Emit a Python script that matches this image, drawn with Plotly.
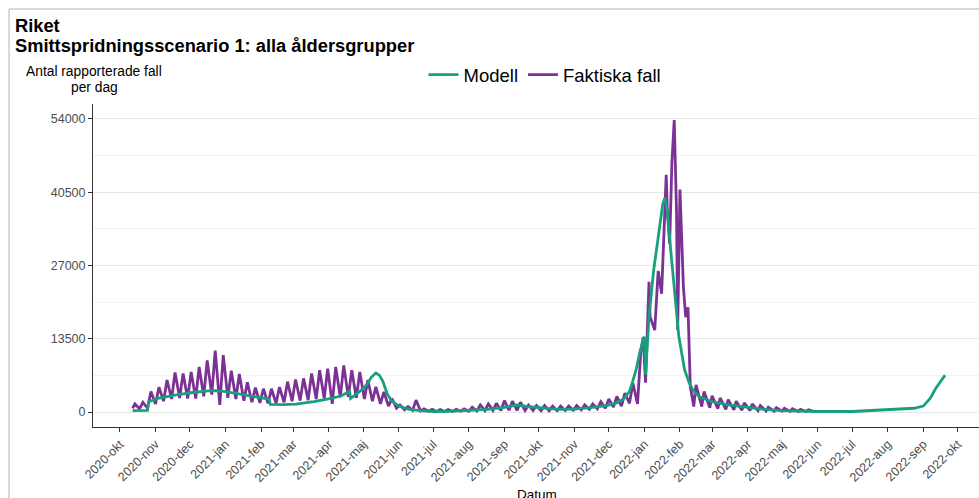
import plotly.graph_objects as go
import pandas as pd

# ---------------- data ----------------
model_dates = [
    "2020-10-12", "2020-10-25", "2020-10-26", "2020-11-03", "2020-11-18", "2020-12-03",
    "2020-12-17", "2020-12-24", "2021-01-01", "2021-01-16", "2021-01-30", "2021-02-08",
    "2021-02-09", "2021-02-20", "2021-03-03", "2021-03-19", "2021-04-03", "2021-04-12",
    "2021-04-19", "2021-04-20", "2021-04-29", "2021-05-04", "2021-05-08", "2021-05-12",
    "2021-05-15", "2021-05-18", "2021-05-22", "2021-05-26", "2021-06-01", "2021-06-10",
    "2021-06-20", "2021-07-01", "2021-07-15", "2021-08-01", "2021-08-17", "2021-09-01",
    "2021-09-12", "2021-09-22", "2021-10-05", "2021-10-18", "2021-11-01", "2021-11-15",
    "2021-11-29", "2021-12-08", "2021-12-14", "2021-12-19", "2021-12-22", "2021-12-25",
    "2021-12-28", "2021-12-31", "2022-01-01", "2022-01-02", "2022-01-05", "2022-01-09",
    "2022-01-14", "2022-01-17", "2022-01-19", "2022-01-21", "2022-01-24", "2022-01-27",
    "2022-01-31", "2022-02-05", "2022-02-09", "2022-02-13", "2022-02-18", "2022-03-01",
    "2022-03-15", "2022-04-01", "2022-04-15", "2022-05-01", "2022-06-01", "2022-07-01",
    "2022-08-01", "2022-08-24", "2022-09-01", "2022-09-07", "2022-09-12", "2022-09-16",
    "2022-09-20",
]
model_values = [
    250, 300, 1900, 2500, 3100, 3600,
    3900, 3950, 3750, 3250, 2700, 2400,
    1400, 1350, 1450, 1900, 2500, 3000,
    3800, 2500, 4000, 5000, 6400, 7200,
    6800, 5700, 3300, 2000, 1100, 500,
    250, 100, 150, 300, 500, 850,
    1300, 1000, 700, 500, 550, 800,
    1200, 1700, 2400, 3800, 5800, 8000,
    11000, 13500, 13900, 6900, 17500, 26000,
    34000, 38300, 39500, 37000, 29700, 22400,
    13900, 7800, 5400, 3800, 2800, 1900,
    1300, 850, 500, 250, 100, 100,
    400, 700, 1100, 2500, 4400, 5600,
    6800,
]

cases_dates = [
    "2020-10-12", "2020-10-14", "2020-10-18", "2020-10-21", "2020-10-25", "2020-10-28",
    "2020-11-01", "2020-11-04", "2020-11-08", "2020-11-11", "2020-11-15", "2020-11-18",
    "2020-11-22", "2020-11-25", "2020-11-29", "2020-12-02", "2020-12-06", "2020-12-09",
    "2020-12-13", "2020-12-16", "2020-12-20", "2020-12-23", "2020-12-27", "2020-12-30",
    "2021-01-03", "2021-01-06", "2021-01-10", "2021-01-13", "2021-01-17", "2021-01-20",
    "2021-01-24", "2021-01-27", "2021-01-31", "2021-02-03", "2021-02-07", "2021-02-10",
    "2021-02-14", "2021-02-17", "2021-02-21", "2021-02-24", "2021-02-28", "2021-03-03",
    "2021-03-07", "2021-03-10", "2021-03-14", "2021-03-17", "2021-03-21", "2021-03-24",
    "2021-03-28", "2021-03-31", "2021-04-04", "2021-04-07", "2021-04-11", "2021-04-14",
    "2021-04-18", "2021-04-21", "2021-04-25", "2021-04-28", "2021-05-02", "2021-05-05",
    "2021-05-09", "2021-05-12", "2021-05-16", "2021-05-19", "2021-05-23", "2021-05-26",
    "2021-05-30", "2021-06-02", "2021-06-06", "2021-06-09", "2021-06-13", "2021-06-16",
    "2021-06-20", "2021-06-23", "2021-06-27", "2021-06-30", "2021-07-04", "2021-07-07",
    "2021-07-11", "2021-07-14", "2021-07-18", "2021-07-21", "2021-07-25", "2021-07-28",
    "2021-08-01", "2021-08-04", "2021-08-08", "2021-08-11", "2021-08-15", "2021-08-18",
    "2021-08-22", "2021-08-25", "2021-08-29", "2021-09-01", "2021-09-05", "2021-09-08",
    "2021-09-12", "2021-09-15", "2021-09-19", "2021-09-22", "2021-09-26", "2021-09-29",
    "2021-10-03", "2021-10-06", "2021-10-10", "2021-10-13", "2021-10-17", "2021-10-20",
    "2021-10-24", "2021-10-27", "2021-10-31", "2021-11-03", "2021-11-07", "2021-11-10",
    "2021-11-14", "2021-11-17", "2021-11-21", "2021-11-24", "2021-11-28", "2021-12-01",
    "2021-12-05", "2021-12-08", "2021-12-12", "2021-12-15", "2021-12-19", "2021-12-22",
    "2021-12-26", "2021-12-29", "2021-12-31", "2022-01-02", "2022-01-05", "2022-01-06",
    "2022-01-10", "2022-01-13", "2022-01-16", "2022-01-20", "2022-01-21", "2022-01-23",
    "2022-01-25", "2022-01-27", "2022-01-29", "2022-01-30", "2022-02-01", "2022-02-04",
    "2022-02-06", "2022-02-08", "2022-02-10", "2022-02-13", "2022-02-15", "2022-02-20",
    "2022-02-22", "2022-02-27", "2022-03-01", "2022-03-06", "2022-03-08", "2022-03-13",
    "2022-03-15", "2022-03-20", "2022-03-22", "2022-03-27", "2022-03-29", "2022-04-03",
    "2022-04-05", "2022-04-10", "2022-04-12", "2022-04-17", "2022-04-19", "2022-04-24",
    "2022-04-26", "2022-05-01", "2022-05-03", "2022-05-08", "2022-05-10", "2022-05-15",
    "2022-05-17", "2022-05-22", "2022-05-24", "2022-05-29",
]
cases_values = [
    700, 1500, 600, 1800, 700, 3800,
    1500, 4600, 2000, 5900, 2400, 7300,
    2600, 7100, 2500, 7400, 2500, 8300,
    2900, 9500, 3200, 11300, 1300, 10500,
    2600, 7600, 2400, 7000, 2100, 5500,
    1800, 4500, 1700, 4300, 1600, 4300,
    1600, 4600, 1800, 5600, 2000, 6000,
    2100, 6200, 2200, 7100, 2400, 7700,
    2500, 8000, 1500, 8300, 2700, 8600,
    2800, 7700, 2600, 7400, 2400, 5900,
    2000, 4650, 1500, 3700, 1100, 2500,
    700, 1300, 400, 1000, 300, 2200,
    200, 600, 150, 500, 100, 450,
    100, 450, 100, 500, 150, 600,
    150, 900, 200, 1300, 250, 1500,
    300, 1600, 300, 2100, 350, 2000,
    300, 1800, 300, 1300, 300, 1200,
    250, 1200, 250, 1100, 250, 1100,
    300, 1100, 350, 1200, 400, 1300,
    500, 1500, 600, 1900, 700, 2400,
    900, 2900, 1100, 3500, 1600, 5300,
    1500, 11500, 13800, 5400, 24000, 17500,
    15100, 26000, 21800, 43700, 37000, 31000,
    46100, 53800, 37000, 15100, 41000, 23000,
    17500, 19300, 4700, 1000, 5000, 1000,
    3800, 800, 3000, 600, 2600, 500,
    2300, 400, 2000, 350, 1700, 300,
    1500, 250, 1200, 200, 900, 150,
    800, 150, 700, 100, 600, 100,
    500, 100, 400, 100,
]

month_ticks = pd.date_range("2020-10-01", "2022-10-01", freq="MS")
month_names = ["jan", "feb", "mar", "apr", "maj", "jun", "jul", "aug", "sep", "okt", "nov", "dec"]
month_labels = [f"{d.year}-{month_names[d.month - 1]}" for d in month_ticks]
y_ticks = [0, 13500, 27000, 40500, 54000]

# ---------------- layout geometry (pixels) ----------------
W, H = 979, 498
L, R, T, B = 93, 0, 104, 71
pw, ph = W - L - R, H - T - B


def px_x(x):
    return (x - L) / pw


def px_y(y):
    return (H - B - y) / ph


GREEN = "#16a07e"
PURPLE = "#7b3294"

fig = go.Figure()
fig.add_trace(go.Scatter(
    x=pd.to_datetime(cases_dates), y=cases_values, mode="lines", name="Faktiska fall",
    line=dict(color=PURPLE, width=2.8),
))
fig.add_trace(go.Scatter(
    x=pd.to_datetime(model_dates), y=model_values, mode="lines", name="Modell",
    line=dict(color=GREEN, width=2.8),
))

fig.update_layout(
    width=W, height=H,
    margin=dict(l=L, r=R, t=T, b=B),
    plot_bgcolor="white", paper_bgcolor="white",
    font=dict(family="Liberation Sans, Arial, sans-serif", color="#000000"),
    showlegend=True,
    legend=dict(
        orientation="h", x=px_x(545), xanchor="center", y=px_y(75), yanchor="middle",
        font=dict(size=18.5, color="#000000"), traceorder="reversed",
        itemwidth=30, bgcolor="rgba(0,0,0,0)",
    ),
    xaxis=dict(
        type="date", automargin=False,
        range=["2020-09-07 12:00", "2022-10-19 14:00"],
        tickvals=list(month_ticks), ticktext=month_labels,
        tickangle=-45, tickfont=dict(size=12.5, color="#4d4d4d"),
        ticks="outside", ticklen=4, tickcolor="#333333", tickwidth=1,
        showgrid=False, zeroline=False,
        showline=True, linecolor="#333333", linewidth=1,
    ),
    yaxis=dict(
        automargin=False,
        range=[-2755, 56755],
        tickvals=y_ticks, ticktext=[str(v) for v in y_ticks],
        tickfont=dict(size=12.5, color="#4d4d4d"),
        ticks="outside", ticklen=4, tickcolor="#333333", tickwidth=1,
        showgrid=True, gridcolor="#e6e6e6", gridwidth=1,
        minor=dict(tickvals=[6750, 20250, 33750, 47250], showgrid=True,
                   gridcolor="#f2f2f2", gridwidth=1, ticks=""),
        zeroline=False,
        showline=True, linecolor="#333333", linewidth=1,
    ),
)

annotations = [
    dict(text="<b>Riket</b>", x=px_x(13), y=px_y(13), xref="paper", yref="paper",
         xanchor="left", yanchor="top", showarrow=False,
         font=dict(size=18.3, color="#000000")),
    dict(text="<b>Smittspridningsscenario 1: alla åldersgrupper</b>", x=px_x(13), y=px_y(33),
         xref="paper", yref="paper", xanchor="left", yanchor="top", showarrow=False,
         font=dict(size=18.3, color="#000000")),
    dict(text="Antal rapporterade fall", x=px_x(94), y=px_y(72),
         xref="paper", yref="paper", xanchor="center", yanchor="middle", showarrow=False,
         font=dict(size=13.8, color="#000000")),
    dict(text="per dag", x=px_x(94), y=px_y(87),
         xref="paper", yref="paper", xanchor="center", yanchor="middle", showarrow=False,
         font=dict(size=13.8, color="#000000")),
    dict(text="Datum", x=px_x(537), y=px_y(485), xref="paper", yref="paper",
         xanchor="center", yanchor="top", showarrow=False,
         font=dict(size=13.5, color="#000000")),
]
fig.update_layout(annotations=annotations)

fig.add_shape(type="rect", xref="paper", yref="paper",
              x0=px_x(9), x1=px_x(1100), y0=px_y(600), y1=px_y(9),
              line=dict(color="#b3b3b3", width=1), fillcolor="rgba(0,0,0,0)", layer="below")

fig.write_html("out.html", config={"displayModeBar": False},
               post_script="document.body.style.margin='0px';document.body.style.overflow='hidden';")
